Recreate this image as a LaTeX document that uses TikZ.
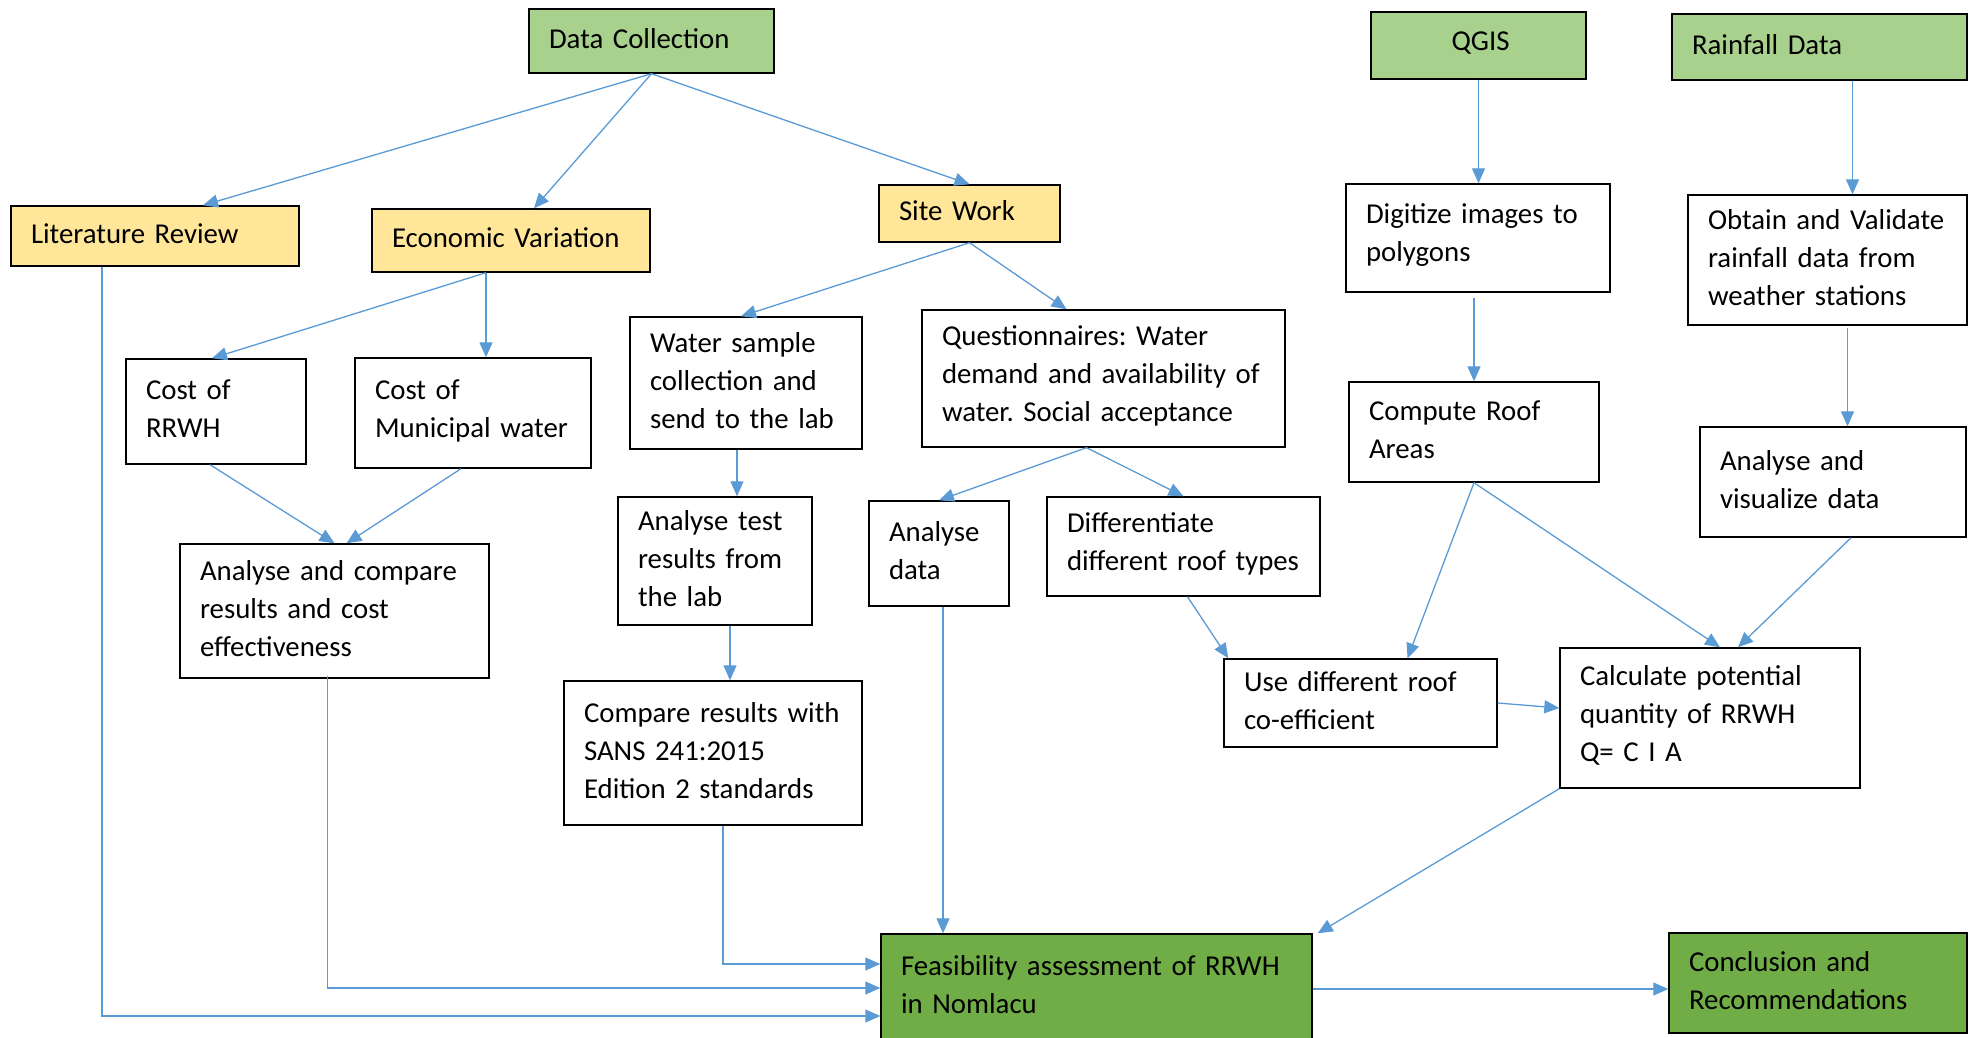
\documentclass[tikz,border=0pt]{standalone}
\usepackage{fontspec}
\setmainfont{Carlito}
\usetikzlibrary{arrows.meta}
\definecolor{lgreen}{HTML}{A9D18E}
\definecolor{dgreen}{HTML}{70AD47}
\definecolor{lyellow}{HTML}{FFE699}
\definecolor{arrblue}{HTML}{5B9BD5}
\newcommand\mkbox[7]{%
  \pgfmathsetlengthmacro\bw{(#4-#2)*1pt}%
  \pgfmathsetlengthmacro\bh{(#5-#3)*1pt}%
  \pgfmathsetlengthmacro\tw{(#4-#2-36)*1pt}%
  \node[box,#6,minimum width=\bw,minimum height=\bh] (#1) at ({(#2+#4)/2},{(#3+#5)/2}) {};
  \node[boxtext,#6,draw=none,fill=none,text width=\tw,xshift=2pt,yshift=2.5pt] (#1t) at (#1.center) {#7};}
\begin{document}
\begin{tikzpicture}[x=1pt,y=-1pt,
  box/.style={draw=black, line width=1.4pt, inner sep=0pt},
  boxtext/.style={inner xsep=18pt, inner ysep=0pt, align=left,
    font=\fontsize{28.8}{38}\selectfont\frenchspacing},
  arr/.style={draw=arrblue, line width=1.3pt, -{Triangle[length=15pt,width=13pt]}}]
\useasboundingbox[fill=white] (0,0) rectangle (1975,1037);
% top row
\mkbox{nDc}{529}{9}{774}{73}{fill=lgreen}{Data Collection}
\mkbox{nQgis}{1371}{12}{1586}{79}{fill=lgreen,align=center}{QGIS}
\mkbox{nRain}{1672}{14}{1967}{80}{fill=lgreen}{Rainfall Data}
% second row
\mkbox{nLit}{11}{206}{299}{266}{fill=lyellow}{Literature Review}
\mkbox{nEcon}{372}{209}{650}{272}{fill=lyellow}{Economic Variation}
\mkbox{nSite}{879}{185}{1060}{242}{fill=lyellow}{Site Work}
\mkbox{nDig}{1346}{184}{1610}{292}{fill=white}{Digitize images to\\polygons}
\mkbox{nObt}{1688}{195}{1967}{325}{fill=white}{Obtain and Validate\\rainfall data from\\weather stations}
% third row
\mkbox{nCrr}{126}{359}{306}{464}{fill=white}{Cost of\\RRWH}
\mkbox{nCmw}{355}{358}{591}{468}{fill=white}{Cost of\\Municipal water}
\mkbox{nWs}{630}{317}{862}{449}{fill=white}{Water sample\\collection and\\send to the lab}
\mkbox{nQ}{922}{310}{1285}{447}{fill=white}{Questionnaires: Water\\demand and availability of\\water. Social acceptance}
\mkbox{nCra}{1349}{382}{1599}{482}{fill=white}{Compute Roof\\Areas}
\mkbox{nAv}{1700}{427}{1966}{537}{fill=white}{Analyse and\\visualize data}
% fourth row
\mkbox{nAc}{180}{544}{489}{678}{fill=white}{Analyse and compare\\results and cost\\effectiveness}
\mkbox{nAt}{618}{497}{812}{625}{fill=white}{Analyse test\\results from\\the lab}
\mkbox{nAd}{869}{501}{1009}{606}{fill=white}{Analyse\\data}
\mkbox{nDr}{1047}{497}{1320}{596}{fill=white}{Differentiate\\different roof types}
\mkbox{nUd}{1224}{659}{1497}{747}{fill=white}{Use different roof\\co-efficient}
\mkbox{nCp}{1560}{648}{1860}{788}{fill=white}{Calculate potential\\quantity of RRWH\\Q= C I A}
\mkbox{nCr}{564}{681}{862}{825}{fill=white}{Compare results with\\SANS 241:2015\\Edition 2 standards}
% bottom
\mkbox{nFa}{881}{934}{1312}{1040}{fill=dgreen}{Feasibility assessment of RRWH\\in Nomlacu}
\mkbox{nCon}{1669}{933}{1967}{1033}{fill=dgreen}{Conclusion and\\Recommendations}
% connectors
\draw[arr] (nDc.south) -- ([xshift=48pt]nLit.north);
\draw[arr] (nDc.south) -- ([xshift=23pt]nEcon.north);
\draw[arr] (nDc.south) -- (nSite.north);
\path ([xshift=-25pt]nEcon.south) coordinate (eS);
\draw[arr] (eS) -- ([xshift=-4pt]nCrr.north);
\draw[arr] (eS) -- (eS |- nCmw.north);
\draw[arr] (nSite.south) -- ([xshift=-5pt]nWs.north);
\draw[arr] (nSite.south) -- ([xshift=-37pt]nQ.north);
\draw[arr] (nQgis.south) -- (nQgis.south |- nDig.north);
\path ([xshift=33pt]nRain.south) coordinate (rS);
\draw[arr] (rS) -- (rS |- nObt.north);
\path ([yshift=-5pt]nDig.south -| nCra.north) coordinate (dgS);
\draw[arr] (dgS) -- (nCra.north);
\path ([xshift=20pt,yshift=-2pt]nObt.south) coordinate (oS);
\draw[arr] (oS) -- (oS |- nAv.north);
\draw[arr] ([xshift=-6pt]nCrr.south) -- (nAc.north);
\draw[arr] ([xshift=-12pt]nCmw.south) -- ([xshift=12pt]nAc.north);
\path ([xshift=-9pt]nWs.south) coordinate (wS);
\draw[arr] (wS) -- (wS |- nAt.north);
\path ([xshift=-17pt]nQ.south) coordinate (qS);
\draw[arr] (qS) -- (nAd.north);
\draw[arr] (qS) -- (nDr.north);
\path ([xshift=15pt]nAt.south) coordinate (aS);
\draw[arr] (aS) -- (aS |- nCr.north);
\draw[arr] ([xshift=4pt]nDr.south) -- ([xshift=5pt]nUd.north west);
\draw[arr] (nCra.south) -- ([xshift=47pt]nUd.north);
\draw[arr] (nCra.south) -- ([xshift=10pt]nCp.north);
\draw[arr] ([xshift=18pt]nAv.south) -- ([xshift=28pt]nCp.north);
\draw[arr] (nUd.east) -- ([yshift=10pt]nCp.west);
\draw[arr] (nCp.south west) -- ([xshift=5pt]nFa.north east);
\path ([xshift=4pt]nAd.south) coordinate (dS);
\draw[arr] (dS) -- (dS |- nFa.north);
\path ([xshift=10pt]nCr.south) coordinate (cS);
\draw[arr] (cS) |- ([yshift=23pt]nFa.west);
\path ([xshift=-7pt,yshift=3pt]nAc.south) coordinate (acS);
\draw[arr] (acS) |- ([yshift=-1pt]nFa.west);
\path ([xshift=-53pt]nLit.south) coordinate (lS);
\draw[arr] (lS) |- ([yshift=-29pt]nFa.west);
\path ([yshift=-2pt]nFa.east) coordinate (fE);
\draw[arr] (fE) -- (fE -| nCon.west);
\end{tikzpicture}
\end{document}
